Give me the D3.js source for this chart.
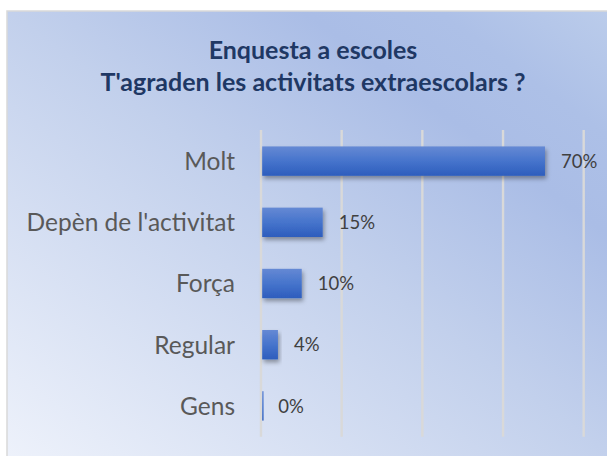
<!DOCTYPE html>
<html>
<head>
<meta charset="utf-8">
<script src="https://cdn.jsdelivr.net/npm/d3@7"></script>
<style>
  html, body { margin: 0; padding: 0; background: #ffffff; }
  svg { display: block; }
</style>
</head>
<body>
<svg id="chart" width="607" height="456"></svg>
<script>
// ---- data ----
const titleLines = ["Enquesta a escoles", "T'agraden les activitats extraescolars ?"];
const categories = ["Molt", "Depèn de l'activitat", "Força", "Regular", "Gens"];
const values = [70.4, 15.3, 10.1, 4.2, 0.3];
const xTicks = [0, 20, 40, 60, 80];

// ---- layout ----
const W = 607, H = 456;
const svg = d3.select("#chart");
const defs = svg.append("defs");

const bg = defs.append("linearGradient").attr("id", "bg")
  .attr("x1", 0).attr("y1", 1).attr("x2", 1).attr("y2", 0);
[[0, "#eef2fb"], [0.5, "#c2d0ec"], [0.74, "#aabde6"], [0.85, "#adc0e7"], [1, "#bccdeb"]]
  .forEach(([o, c]) => bg.append("stop").attr("offset", o).attr("stop-color", c));

const barG = defs.append("linearGradient").attr("id", "barg")
  .attr("x1", 0).attr("y1", 0).attr("x2", 0).attr("y2", 1);
[[0, "#6589d4"], [0.5, "#4674cc"], [1, "#2d5dbd"]]
  .forEach(([o, c]) => barG.append("stop").attr("offset", o).attr("stop-color", c));

const sh = defs.append("filter").attr("id", "shadow")
  .attr("x", "-10%").attr("y", "-20%").attr("width", "130%").attr("height", "160%");
sh.append("feDropShadow").attr("dx", 1.5).attr("dy", 3).attr("stdDeviation", 2)
  .attr("flood-color", "#000").attr("flood-opacity", 0.35);

// chart area
svg.append("rect")
  .attr("x", 7).attr("y", 11).attr("width", 616).attr("height", 452)
  .attr("fill", "url(#bg)").attr("stroke", "#d9d9d9").attr("stroke-width", 1.5);

// title
const title = svg.append("text")
  .attr("text-anchor", "middle")
  .attr("font-family", "Lato, 'Open Sans', sans-serif")
  .attr("font-weight", "bold").attr("font-size", 25)
  .attr("fill", "#1f3864");
titleLines.forEach((t, i) => {
  title.append("tspan").attr("x", 313).attr("y", 59 + i * 32).text(t);
});

const x = d3.scaleLinear().domain([0, 80]).range([261, 583.7]);
const y = d3.scaleBand().domain(categories).range([130.5, 436.5])
  .paddingInner(0.52).paddingOuter(0.26);

// gridlines
svg.append("g").selectAll("line").data(xTicks).join("line")
  .attr("x1", d => x(d)).attr("x2", d => x(d))
  .attr("y1", 130).attr("y2", 436.7)
  .attr("stroke", "#d9d9d9").attr("stroke-width", 2.4);

// bars
svg.append("g").selectAll("rect").data(values).join("rect")
  .attr("x", x(0) + 1.2)
  .attr("y", (d, i) => y(categories[i]))
  .attr("width", d => x(d) - x(0) - 1.2 > 1 ? x(d) - x(0) - 1.2 : 1.4)
  .attr("height", y.bandwidth())
  .attr("fill", "url(#barg)")
  .attr("filter", (d) => d > 1 ? "url(#shadow)" : null);

// category labels
const yAxis = d3.axisLeft(y).tickSize(0).tickPadding(0);
const ya = svg.append("g").attr("transform", "translate(235,0)").call(yAxis);
ya.select(".domain").remove();
ya.selectAll("text")
  .attr("font-family", "Lato, 'Open Sans', sans-serif")
  .attr("font-size", 24.5).attr("fill", "#595959")
  .attr("dy", "0.36em");

// value labels
svg.append("g").selectAll("text").data(values).join("text")
  .attr("x", d => x(d) + 16)
  .attr("y", (d, i) => y(categories[i]) + y.bandwidth() / 2)
  .attr("dy", "0.36em")
  .attr("font-family", "Lato, 'Open Sans', sans-serif")
  .attr("font-size", 18.5).attr("fill", "#404040")
  .text(d => Math.round(d) + "%");
</script>
</body>
</html>
